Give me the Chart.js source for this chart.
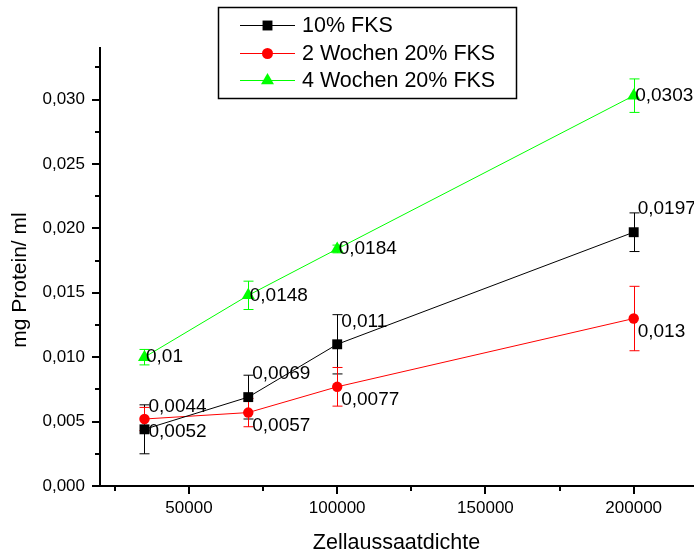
<!DOCTYPE html>
<html>
<head>
<meta charset="utf-8">
<script src="https://cdn.jsdelivr.net/npm/chart.js@4/dist/chart.umd.min.js"></script>
<style>
html,body{margin:0;padding:0;background:#fff;}
#c{display:block;}
</style>
</head>
<body>
<canvas id="c" width="694" height="554"></canvas>
<script>
// ---- data ----
const cellDensity = [35000, 70000, 100000, 200000];
const seriesNames = ['10% FKS', '2 Wochen 20% FKS', '4 Wochen 20% FKS'];
const fks10 = [0.0044, 0.0069, 0.011, 0.0197];
const fks10Err = [0.0019, 0.0017, 0.0023, 0.0015];
const wochen2 = [0.0052, 0.0057, 0.0077, 0.013];
const wochen2Err = [0.0009, 0.0011, 0.0015, 0.0025];
const wochen4 = [0.01, 0.0148, 0.0184, 0.0303];
const wochen4Err = [0.0006, 0.0011, 0.0003, 0.0013];
const xTickLabels = [50000, 100000, 150000, 200000];
const yTickLabels = [0, 0.005, 0.01, 0.015, 0.02, 0.025, 0.03];
const xTitle = 'Zellaussaatdichte';
const yTitle = 'mg Protein/ ml';

const FONT = '"Liberation Sans", Arial, sans-serif';

const styles = [
  {color:'#000000', shape:'rect', radius:7, label:'above'},
  {color:'#ff0000', shape:'circle', radius:5.2, label:'below'},
  {color:'#00ff00', shape:'triangle', radius:7.5, label:'right'}
];
const values = [fks10, wochen2, wochen4];
const errors = [fks10Err, wochen2Err, wochen4Err];

function fmt(v){ return String(v).replace('.', ','); }

function drawMarker(ctx, shape, x, y, r, color){
  ctx.save();
  ctx.fillStyle = color;
  ctx.beginPath();
  if (shape === 'rect'){
    const s = r * Math.SQRT1_2;
    ctx.rect(x - s, y - s, 2*s, 2*s);
  } else if (shape === 'circle'){
    ctx.arc(x, y, r, 0, Math.PI*2);
  } else {
    for (let i=0;i<3;i++){
      const a = i*2*Math.PI/3;
      const px = x + Math.sin(a)*r, py = y - Math.cos(a)*r;
      if (i===0) ctx.moveTo(px,py); else ctx.lineTo(px,py);
    }
    ctx.closePath();
  }
  ctx.fill();
  ctx.restore();
}

const datasets = values.map((vals, i) => ({
  label: seriesNames[i],
  data: cellDensity.map((x, j) => ({x: x, y: vals[j]})),
  borderColor: styles[i].color,
  backgroundColor: styles[i].color,
  borderWidth: 1,
  pointStyle: styles[i].shape,
  pointRadius: styles[i].radius,
  pointBorderWidth: 0,
  pointBackgroundColor: styles[i].color,
  tension: 0,
  fill: false,
  clip: false
}));

const extras = {
  id: 'extras',
  beforeDatasetsDraw(chart){
    const ctx = chart.ctx, xs = chart.scales.x, ys = chart.scales.y;
    ctx.save();
    values.forEach((vals, i) => {
      ctx.strokeStyle = styles[i].color;
      ctx.lineWidth = 1;
      vals.forEach((v, j) => {
        const e = errors[i][j];
        const px = Math.round(xs.getPixelForValue(cellDensity[j])) + 0.5;
        const top = ys.getPixelForValue(v + e), bot = ys.getPixelForValue(v - e);
        ctx.beginPath();
        ctx.moveTo(px, top); ctx.lineTo(px, bot);
        ctx.moveTo(px - 5, top); ctx.lineTo(px + 5, top);
        ctx.moveTo(px - 5, bot); ctx.lineTo(px + 5, bot);
        ctx.stroke();
      });
    });
    ctx.restore();
  },
  afterDatasetsDraw(chart){
    const ctx = chart.ctx, xs = chart.scales.x, ys = chart.scales.y;
    ctx.save();
    ctx.font = '19px ' + FONT;
    ctx.fillStyle = '#000';
    ctx.textBaseline = 'middle';
    ctx.textAlign = 'left';
    values.forEach((vals, i) => {
      vals.forEach((v, j) => {
        const px = xs.getPixelForValue(cellDensity[j]);
        const py = ys.getPixelForValue(v);
        let dx = 4, dy = 0;
        if (styles[i].label === 'above') dy = -23;
        else if (styles[i].label === 'below') dy = 13;
        else dx = 1.5;
        ctx.fillText(fmt(v), px + dx, py + dy);
      });
    });
    ctx.restore();
  },
  afterDraw(chart){
    const ctx = chart.ctx, xs = chart.scales.x, ys = chart.scales.y;
    const ca = chart.chartArea;
    ctx.save();
    ctx.strokeStyle = '#000';
    ctx.lineWidth = 2;
    // y tick marks (major with labels, minor in between)
    for (let k = 0; k <= 13; k++){
      const v = k * 0.0025;
      const py = Math.round(ys.getPixelForValue(v));
      const len = (k % 2 === 0) ? 8 : 5;
      ctx.beginPath(); ctx.moveTo(ca.left - len, py); ctx.lineTo(ca.left, py); ctx.stroke();
    }
    // x tick marks
    for (let k = 1; k <= 8; k++){
      const v = k * 25000;
      const px = Math.round(xs.getPixelForValue(v));
      const len = (k % 2 === 0) ? 8 : 5;
      ctx.beginPath(); ctx.moveTo(px, ca.bottom); ctx.lineTo(px, ca.bottom + len); ctx.stroke();
    }
    // y axis title (centred slightly below the plot middle, as in the reference)
    ctx.save();
    ctx.translate(20, (ca.top + ca.bottom) / 2 + 13);
    ctx.rotate(-Math.PI / 2);
    ctx.font = '21px ' + FONT;
    ctx.fillStyle = '#000';
    ctx.textAlign = 'center';
    ctx.textBaseline = 'middle';
    ctx.fillText(yTitle, 0, 0);
    ctx.restore();
    // legend box
    const L = {x:218, y:7, w:298, h:91};
    ctx.fillStyle = '#fff';
    ctx.fillRect(L.x, L.y, L.w, L.h);
    ctx.lineWidth = 1.5;
    ctx.strokeStyle = '#000';
    ctx.strokeRect(L.x + 0.5, L.y + 0.5, L.w, L.h);
    ctx.font = '21.5px ' + FONT;
    ctx.textBaseline = 'middle';
    ctx.textAlign = 'left';
    const rows = [25, 53, 80];
    seriesNames.forEach((name, i) => {
      const ry = rows[i];
      ctx.strokeStyle = styles[i].color;
      ctx.lineWidth = 1;
      ctx.beginPath(); ctx.moveTo(240, ry + 0.5); ctx.lineTo(295, ry + 0.5); ctx.stroke();
      drawMarker(ctx, styles[i].shape, 267.5, ry + 0.5, i === 2 ? 7.5 : (i === 0 ? 7 : 5.5), styles[i].color);
      ctx.fillStyle = '#000';
      ctx.fillText(name, 302, ry + 1);
    });
    ctx.restore();
  }
};

new Chart(document.getElementById('c'), {
  type: 'line',
  data: { datasets: datasets },
  plugins: [extras],
  options: {
    responsive: false,
    animation: false,
    events: [],
    layout: { autoPadding: false, padding: { top: 48, right: 1, left: 0, bottom: 0 } },
    plugins: { legend: { display: false }, tooltip: { enabled: false } },
    scales: {
      x: {
        type: 'linear',
        min: 20000,
        max: 220000,
        afterFit(s){ s.height = 68; s.paddingLeft = 0; s.paddingRight = 0; },
        afterBuildTicks(s){ s.ticks = xTickLabels.map(v => ({value: v})); },
        grid: { display: false, drawTicks: false },
        border: { display: true, color: '#000', width: 2 },
        ticks: {
          padding: 12.5,
          autoSkip: false,
          maxRotation: 0,
          color: '#000',
          font: { family: FONT, size: 17 },
          callback: v => String(v)
        },
        title: {
          display: true,
          text: xTitle,
          color: '#000',
          font: { family: FONT, size: 21.5, lineHeight: 1 },
          padding: { top: 0, bottom: 0 }
        }
      },
      y: {
        type: 'linear',
        min: 0,
        max: 0.034,
        afterFit(s){ s.width = 100; s.paddingTop = 0; s.paddingBottom = 0; },
        afterBuildTicks(s){ s.ticks = yTickLabels.map(v => ({value: v})); },
        grid: { display: false, drawTicks: false },
        border: { display: true, color: '#000', width: 2 },
        ticks: {
          padding: 15,
          autoSkip: false,
          color: '#000',
          font: { family: FONT, size: 17 },
          callback: v => v.toFixed(3).replace('.', ',')
        },
        title: { display: false }
      }
    }
  }
});
</script>
</body>
</html>
